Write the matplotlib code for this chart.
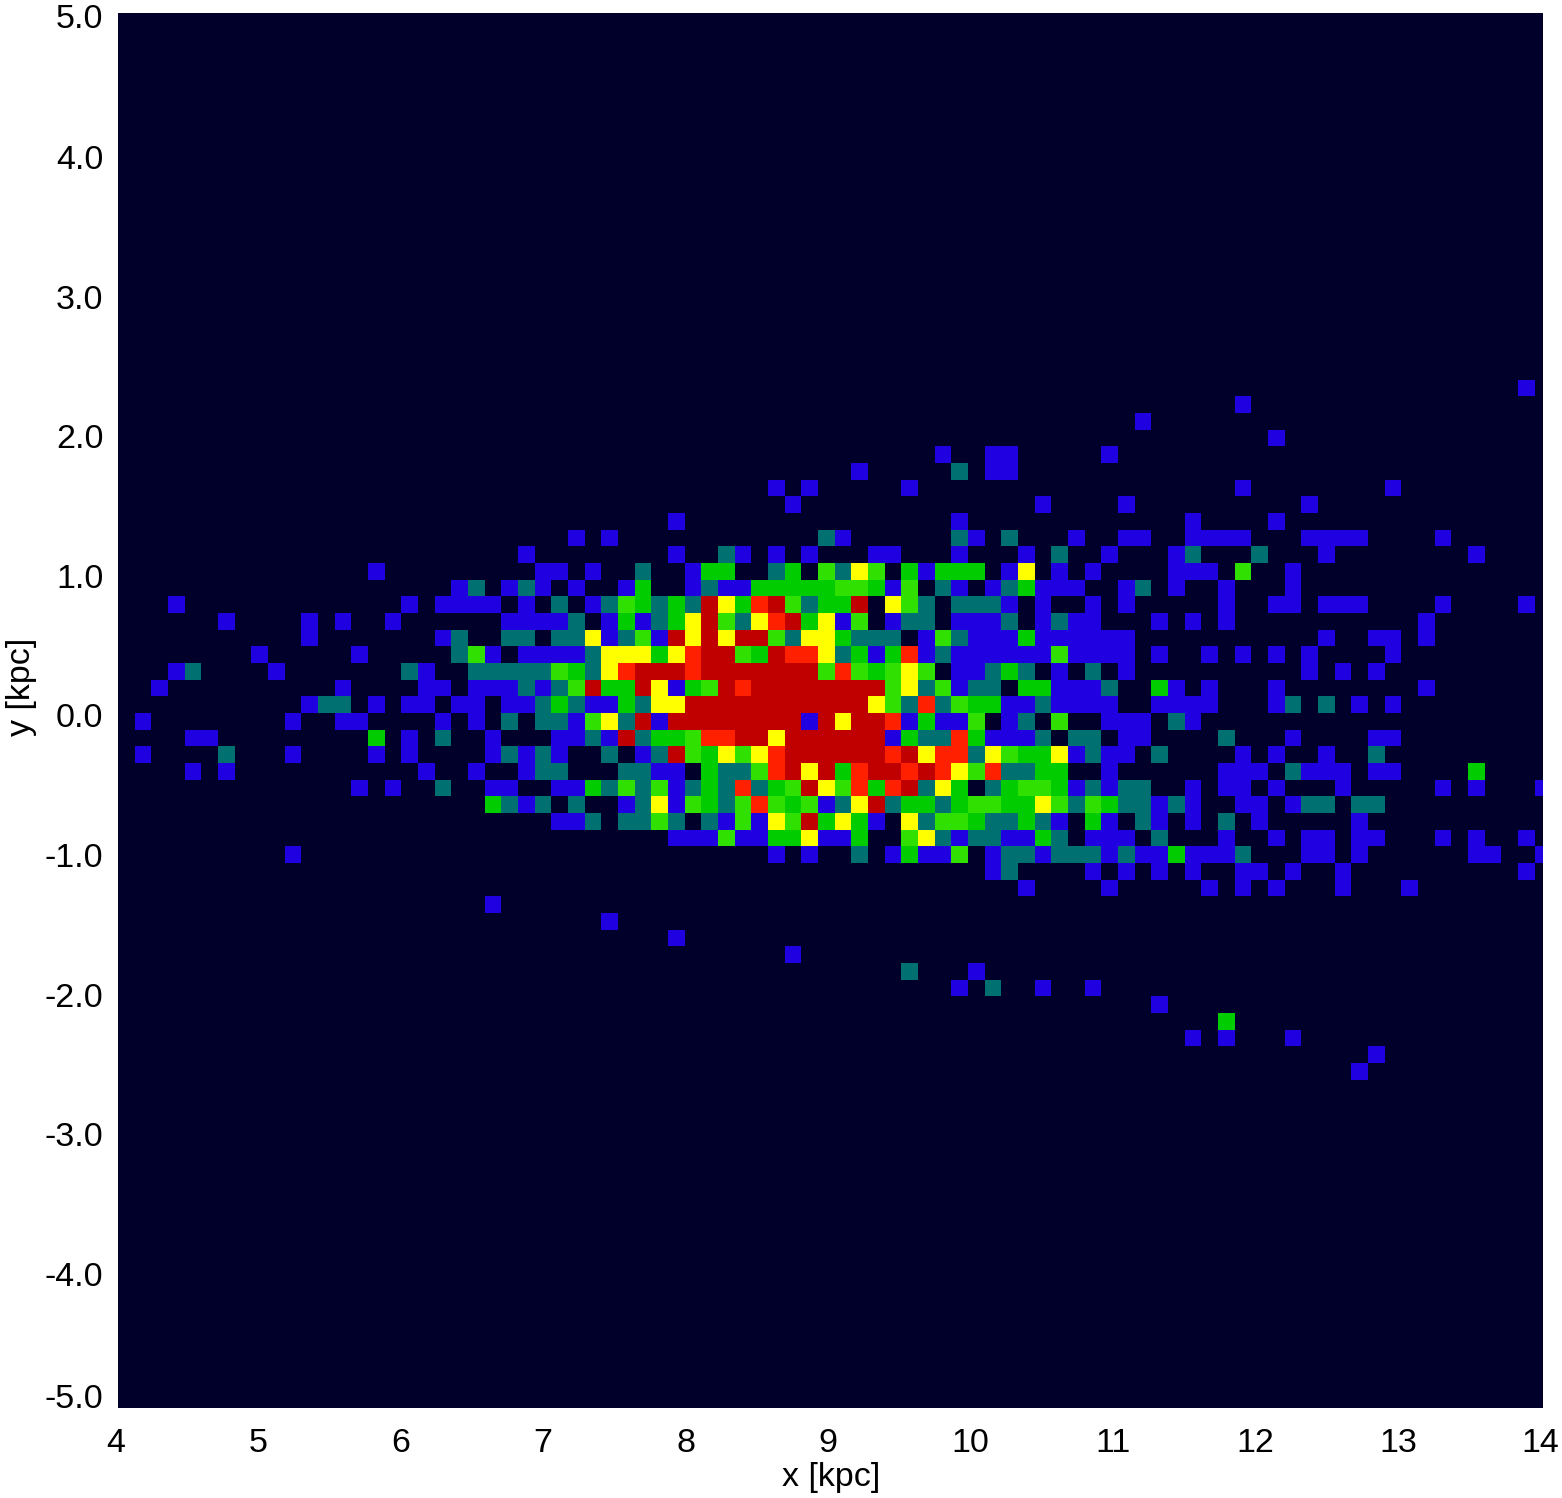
import numpy as np
import matplotlib
matplotlib.use("Agg")
import matplotlib.pyplot as plt
from matplotlib.colors import ListedColormap, BoundaryNorm
from matplotlib.transforms import ScaledTranslation

plt.rcParams['font.family'] = ['Liberation Sans', 'DejaVu Sans']

# Binned map: row index (from the top) -> "first_bin:levels" runs, 0 = empty bin
map_rows = {
    22: "84:1",
    23: "67:1",
    24: "61:1",
    25: "69:1",
    26: "49:1 52:11 59:1",
    27: "44:1 50:2 52:11",
    28: "39:1 41:1 47:1 67:1 76:1",
    29: "40:1 55:1 60:1 71:1",
    30: "33:1 50:1 64:1 69:1",
    31: "27:1 29:1 42:2 43:1 50:2 51:1 53:2 57:1 60:11 64:1111 71:1111 79:1",
    32: "24:1 33:1 36:2 37:1 39:1 41:1 45:11 50:1 54:1 56:2 59:1 63:1 64:2 68:2 72:1 81:1",
    33: "15:1 25:11 28:1 31:2 34:1 35:33 39:2 40:3 42:4 43:2 44:5 45:4 47:3 48:1 49:333 53:1 54:5 56:1 58:1 63:111 67:4 70:1",
    34: "20:12 23:1 24:2 25:1 27:1 30:1 31:3 34:1 35:2 36:11 38:33333 43:44 45:3 46:1 47:4 49:2 50:1 52:1 53:2 54:3 55:111 60:1 61:2 63:1 66:1 70:1",
    35: "3:1 17:1 19:1111 24:1 26:2 28:1 29:2 30:4 31:3 32:2 33:3 34:2 35:7 36:5 37:3 38:6 39:7 40:4 41:2 42:33 44:7 46:5 47:4 48:2 50:222 53:1 55:1 58:1 60:1 66:1 69:11 72:111 79:1 84:1",
    36: "6:1 11:1 13:1 16:1 23:1111 27:2 29:1 30:3 31:1 32:2 33:3 34:5 35:7 36:4 37:2 38:5 39:6 40:7 41:3 42:5 43:1 44:4 46:1 47:22 50:111 53:2 55:1 56:2 57:11 62:1 64:1 66:1 78:1",
    37: "11:1 19:12 23:22 26:22 28:5 29:1 30:2 31:4 32:1 33:7 34:5 35:7 36:5 37:77 39:4 40:2 41:55 43:3 44:222 48:1 49:4 50:2 51:111 54:3 55:111111 72:1 75:11 78:1",
    38: "8:1 14:1 20:24 22:1 24:1111 28:2 29:555 32:3 33:5 34:6 35:77 37:4 38:3 39:7 40:66 42:5 43:2 44:3 45:1 46:3 47:6 48:1 49:2 50:111111 56:4 57:1111 62:1 65:1 67:1 69:1 71:1 76:1",
    39: "3:12 9:1 17:2 18:1 21:22222 26:4 27:3 28:2 29:5 30:6 31:777 34:6 35:7777777 42:4 43:6 44:4 45:3 46:4 47:5 48:4 50:11 52:2 53:3 54:2 56:1 58:2 60:1 71:1 73:1 75:1",
    40: "2:1 13:1 18:11 21:111 24:2 25:1 26:2 27:4 28:7 29:33 31:7 32:5 33:1 34:3 35:4 36:7 37:6 38:77777777 46:4 47:5 48:2 49:4 50:1 51:22 54:33 56:111 59:2 62:3 63:1 65:1 69:1 78:1",
    41: "11:1 12:22 15:1 17:11 20:11 23:11 25:2 26:3 27:2 28:11 30:3 31:2 32:55 34:77777777777 45:5 46:4 47:2 48:6 49:2 50:4 51:33 53:11 55:2 56:1111 62:1111 69:1 70:2 72:2 74:1 76:1",
    42: "1:1 10:1 13:11 19:1 21:1 23:2 25:22 27:1 28:4 29:5 30:2 31:7 32:1 33:77777777 41:1 42:7 43:5 44:77 46:6 47:1 48:3 49:11 51:4 53:1 54:2 56:4 59:111 63:2 64:1",
    43: "4:11 15:3 17:1 19:2 22:1 26:11 28:2 29:1 30:7 31:2 32:33 34:4 35:66 37:77 39:5 40:777777 46:1 47:3 48:22 50:6 51:3 52:111 55:2 57:22 60:11 66:2 70:1 75:11",
    44: "1:1 6:2 10:1 15:1 17:1 22:1 23:2 24:1 25:2 26:1 29:2 31:1 32:2 33:7 34:4 35:3 36:5 37:4 38:5 39:6 40:777777 46:6 47:7 48:5 49:66 51:2 52:5 53:4 54:33 56:5 57:1 58:2 59:11 62:2 67:1 69:1 72:1 75:2",
    45: "4:1 6:1 18:1 21:1 24:1 25:22 30:22 32:11 35:3 36:22 38:4 39:6 40:7 41:5 42:7 43:3 44:6 45:77 47:6 48:7 49:6 50:5 51:4 52:6 53:22 55:33 59:1 66:111 70:2 71:111 75:11 81:3",
    46: "14:1 16:1 19:2 22:11 26:11 28:3 29:2 30:4 31:2 32:4 33:1 34:2 35:3 36:2 37:6 38:2 39:3 40:4 41:7 42:5 43:4 44:6 45:3 46:6 47:7 48:2 49:5 50:3 52:2 53:3 54:44 56:3 57:1 58:2 59:1 60:22 64:1 66:11 69:1 73:1 79:1 81:1 85:1",
    47: "22:3 23:2 24:1 25:2 27:2 30:1 31:2 32:5 33:1 34:4 35:3 36:2 37:4 38:6 39:4 40:3 41:4 42:1 43:2 44:5 45:7 46:2 47:33 49:2 50:3 51:44 53:33 55:5 56:4 57:2 58:4 59:3 60:22 62:1 63:2 64:1 67:11 70:1 71:22 74:22",
    48: "26:11 28:2 30:22 32:4 33:2 35:2 36:1 37:4 38:1 39:5 40:4 41:7 42:3 43:5 44:3 45:1 47:5 48:2 49:44 51:3 52:22 54:3 55:2 56:1 58:3 59:1 61:2 62:1 64:1 66:2 68:1 74:1",
    49: "33:111 36:4 37:11 39:33 41:5 42:11 44:3 47:4 48:5 49:2 50:1 51:22 53:11 55:3 56:2 58:111 62:2 66:1 69:1 71:11 74:11 79:1 81:1 84:1",
    50: "10:1 39:1 41:1 44:2 46:1 47:3 48:11 50:4 52:1 53:22 55:1 56:222 59:1 60:2 61:11 63:3 64:111 67:2 71:11 74:1 81:11 85:1",
    51: "52:1 53:2 58:1 60:1 62:1 64:1 67:11 70:1 73:1 84:1",
    52: "54:1 59:1 65:1 67:1 69:1 73:1 77:1",
    53: "22:1",
    54: "29:1",
    55: "33:1",
    56: "40:1",
    57: "47:2 51:1",
    58: "50:1 52:2 55:1 58:1",
    59: "62:1",
    60: "66:3",
    61: "64:1 66:1 70:1",
    62: "75:1",
    63: "74:1",
}

level_colors = ['#00002a', '#2000e0', '#007070', '#00cc00', '#30e000', '#ffff00', '#ff2000', '#c00000']

x_ticks = [4, 5, 6, 7, 8, 9, 10, 11, 12, 13, 14]
y_ticks = [-5.0, -4.0, -3.0, -2.0, -1.0, 0.0, 1.0, 2.0, 3.0, 4.0, 5.0]

# bin sizes in kpc, the map starts at the top left corner
bin_x = 10 / 85.5
bin_y = 10 / 83.7
n_cols, n_rows = 86, 84

grid = np.zeros((n_rows, n_cols))
for row, runs in map_rows.items():
    for run in runs.split():
        start, levels = run.split(':')
        for i, level in enumerate(levels):
            grid[row, int(start) + i] = int(level)

x_edges = 4 + bin_x * np.arange(n_cols + 1)
y_edges = 5 - bin_y * np.arange(n_rows + 1)

fig = plt.figure(figsize=(15.62, 14.98), dpi=100)
ax = fig.add_axes([118 / 1562, 90 / 1498, 1425 / 1562, 1395 / 1498])

cmap = ListedColormap(level_colors)
norm = BoundaryNorm(np.arange(-0.5, 8.5), cmap.N)
ax.set_facecolor(level_colors[0])
ax.pcolormesh(x_edges, y_edges, grid, cmap=cmap, norm=norm, antialiased=False, linewidth=0)

ax.set_xlim(4, 14)
ax.set_ylim(-5, 5)
ax.set_xticks(x_ticks)
ax.set_yticks(y_ticks)
ax.set_xticklabels([str(t) for t in x_ticks])
ax.set_yticklabels(['%.1f' % t for t in y_ticks])
ax.tick_params(length=0, labelsize=24.5)
ax.tick_params(axis='x', pad=14.3)
ax.tick_params(axis='y', pad=10.5)
for spine in ax.spines.values():
    spine.set_visible(False)

# the labels of the original sit a little off their positions
for label in ax.get_xticklabels():
    label.set_transform(label.get_transform() + ScaledTranslation(-2.5 / 100, 0, fig.dpi_scale_trans))
for label, t in zip(ax.get_yticklabels(), y_ticks):
    shift = -5.5 if t < -1.5 else -4.5
    if t == 5.0:
        shift = -3
    if t == -5.0:
        shift = 12
    label.set_transform(label.get_transform() + ScaledTranslation(0, shift / 100, fig.dpi_scale_trans))

ax.set_xlabel('x [kpc]', fontsize=24.5, va='center')
ax.set_ylabel('y [kpc]', fontsize=24.5, va='center')
ax.xaxis.set_label_coords(0.5004, -0.0495)
ax.yaxis.set_label_coords(-0.0674, 0.517)

fig.savefig('out.png', dpi=100, facecolor='white')
